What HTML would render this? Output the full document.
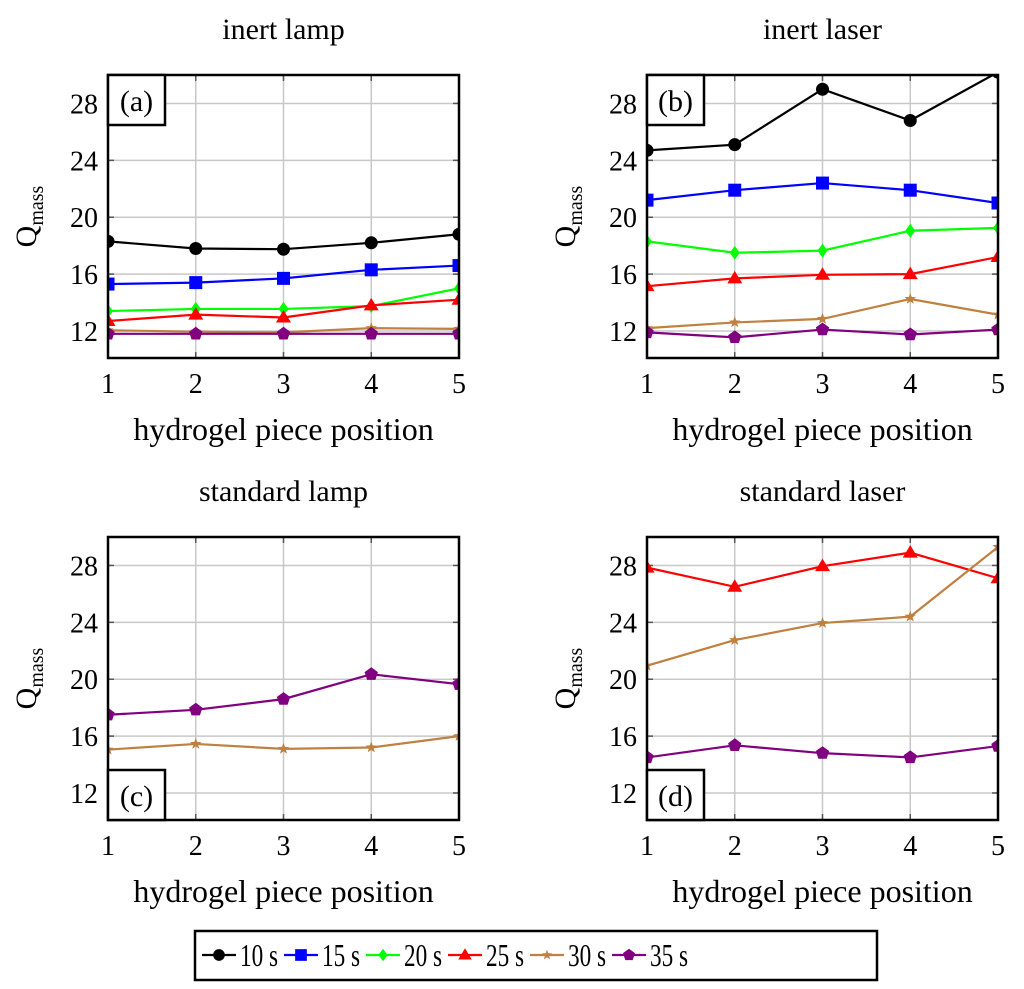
<!DOCTYPE html>
<html><head><meta charset="utf-8">
<style>
body{margin:0;background:#fff;}
svg{display:block;font-family:"Liberation Serif",serif;}
</style></head>
<body>
<svg id="chart" width="1024" height="989" viewBox="0 0 1024 989" xmlns="http://www.w3.org/2000/svg"></svg>
<script>
const xCats = [1,2,3,4,5];
const yTicks = [12,16,20,24,28];
const seriesNames = ["10 s","15 s","20 s","25 s","30 s","35 s"];
const seriesColors = ["#000000","#0000ff","#00ff00","#ff0000","#c08040","#800080"];
const seriesMarkers = ["circle","square","diamond","triangle","star","pentagon"];
const aS10 = [18.3,17.8,17.75,18.2,18.8];
const aS15 = [15.3,15.4,15.7,16.3,16.6];
const aS20 = [13.4,13.55,13.55,13.75,15.0];
const aS25 = [12.7,13.15,12.95,13.8,14.2];
const aS30 = [12.05,11.95,11.9,12.2,12.15];
const aS35 = [11.8,11.8,11.8,11.8,11.8];
const bS10 = [24.7,25.1,29.0,26.8,30.2];
const bS15 = [21.2,21.9,22.4,21.9,21.0];
const bS20 = [18.3,17.5,17.65,19.05,19.25];
const bS25 = [15.15,15.7,15.95,16.0,17.2];
const bS30 = [12.2,12.6,12.85,14.25,13.15];
const bS35 = [11.9,11.55,12.1,11.75,12.1];
const cS30 = [15.05,15.45,15.1,15.2,16.0];
const cS35 = [17.5,17.85,18.6,20.35,19.65];
const dS25 = [27.85,26.5,27.95,28.9,27.1];
const dS30 = [20.95,22.75,23.95,24.4,29.3];
const dS35 = [14.5,15.35,14.8,14.5,15.3];

const panels = [
 {id:"a",title:"inert lamp",x0:108,y0:75,label:"(a)",labelTop:true,data:[aS10,aS15,aS20,aS25,aS30,aS35]},
 {id:"b",title:"inert laser",x0:647,y0:75,label:"(b)",labelTop:true,data:[bS10,bS15,bS20,bS25,bS30,bS35]},
 {id:"c",title:"standard lamp",x0:108,y0:537,label:"(c)",labelTop:false,data:[null,null,null,null,cS30,cS35]},
 {id:"d",title:"standard laser",x0:647,y0:537,label:"(d)",labelTop:false,data:[null,null,null,dS25,dS30,dS35]}
];
const W=351,H=283,yMin=10.1,yMax=30;
const NS="http://www.w3.org/2000/svg";
const svg=document.getElementById("chart");
function el(tag,attrs,parent){const e=document.createElementNS(NS,tag);for(const k in attrs)e.setAttribute(k,attrs[k]);(parent||svg).appendChild(e);return e;}
function marker(g,type,cx,cy,color,s){
 let e;
 if(type==="circle") e=el("circle",{cx:cx,cy:cy,r:6.5*s,fill:color},g);
 else if(type==="square") e=el("rect",{x:cx-6.5*s,y:cy-6.5*s,width:13*s,height:13*s,fill:color},g);
 else if(type==="diamond") e=el("polygon",{points:`${cx},${cy-7*s} ${cx+5*s},${cy} ${cx},${cy+7*s} ${cx-5*s},${cy}`,fill:color},g);
 else if(type==="triangle") e=el("polygon",{points:`${cx},${cy-7.5*s} ${cx+7.5*s},${cy+5*s} ${cx-7.5*s},${cy+5*s}`,fill:color},g);
 else if(type==="star"){let p=[];for(let i=0;i<10;i++){const r=i%2?2.5*s:6*s,a=-Math.PI/2+i*Math.PI/5;p.push((cx+r*Math.cos(a)).toFixed(1)+","+(cy+r*Math.sin(a)).toFixed(1));}e=el("polygon",{points:p.join(" "),fill:color},g);}
 else {let p=[];for(let i=0;i<5;i++){const a=-Math.PI/2+i*2*Math.PI/5;p.push((cx+7*s*Math.cos(a)).toFixed(1)+","+(cy+7*s*Math.sin(a)).toFixed(1));}e=el("polygon",{points:p.join(" "),fill:color},g);}
 return e;
}
panels.forEach(p=>{
 const sx=v=>p.x0+(v-1)/4*W, sy=v=>p.y0+H-(v-yMin)/(yMax-yMin)*H;
 const g=el("g",{});
 
 
 const t=el("text",{x:p.x0+W/2,y:p.y0-36,"text-anchor":"middle","font-size":"30"},g);t.textContent=p.title;
 
 
 const clipId="clip"+p.id;
 const cp=el("clipPath",{id:clipId},g);el("rect",{x:p.x0,y:p.y0,width:W,height:H},cp);
 xCats.forEach(c=>{el("line",{x1:sx(c),x2:sx(c),y1:p.y0,y2:p.y0+H,stroke:"#c8c8c8","stroke-width":1.5},g);
   el("line",{x1:sx(c),x2:sx(c),y1:p.y0+H,y2:p.y0+H-6,stroke:"#555","stroke-width":1.5},g);
   el("line",{x1:sx(c),x2:sx(c),y1:p.y0,y2:p.y0+6,stroke:"#555","stroke-width":1.5},g);
   const tl=el("text",{x:sx(c),y:p.y0+H+35,"text-anchor":"middle","font-size":"28"},g);tl.textContent=c;
   
   });
 yTicks.forEach(v=>{el("line",{x1:p.x0,x2:p.x0+W,y1:sy(v),y2:sy(v),stroke:"#c8c8c8","stroke-width":1.5},g);
   el("line",{x1:p.x0,x2:p.x0+6,y1:sy(v),y2:sy(v),stroke:"#555","stroke-width":1.5},g);
   el("line",{x1:p.x0+W-6,x2:p.x0+W,y1:sy(v),y2:sy(v),stroke:"#555","stroke-width":1.5},g);
   const tl=el("text",{x:p.x0-10,y:sy(v)+10,"text-anchor":"end","font-size":"28"},g);tl.textContent=v;
   
   });
 const sg=el("g",{"clip-path":`url(#${clipId})`},g);
 p.data.forEach((d,i)=>{ if(!d) return;
   const lg=el("g",{},sg);
   
   
   el("polyline",{points:d.map((v,j)=>sx(xCats[j])+","+sy(v)).join(" "),fill:"none",stroke:seriesColors[i],"stroke-width":2.2},lg);
   d.forEach((v,j)=>marker(lg,seriesMarkers[i],sx(xCats[j]),sy(v),seriesColors[i],1));
 });
 el("rect",{x:p.x0,y:p.y0,width:W,height:H,fill:"none",stroke:"#000","stroke-width":2.5},g);
 const ly=p.labelTop?p.y0:p.y0+H-50;
 const lb=el("rect",{x:p.x0,y:ly,width:57,height:50,fill:"#fff",stroke:"#000","stroke-width":2.5},g);
 
 
 const lt=el("text",{x:p.x0+28.5,y:ly+36,"text-anchor":"middle","font-size":"30"},g);lt.textContent=p.label;
 const xl=el("text",{x:p.x0+W/2,y:p.y0+H+82,"text-anchor":"middle","font-size":"32"},g);xl.textContent="hydrogel piece position";
 
 
 const yx=p.x0-72,yy=p.y0+H/2;
 const yl=el("text",{x:yx,y:yy,"text-anchor":"middle","font-size":"30",transform:`rotate(-90 ${yx} ${yy})`},g);
 
 
 yl.innerHTML='Q<tspan font-size="20" dy="7">mass</tspan>';
});
const lgd=el("g",{});


el("rect",{x:195,y:931,width:682,height:49,fill:"#fff",stroke:"#000","stroke-width":2.5},lgd);
seriesNames.forEach((n,i)=>{
 const e=el("g",{},lgd);
 
 
 const x=202+i*82;
 el("line",{x1:x,x2:x+34,y1:955,y2:955,stroke:seriesColors[i],"stroke-width":2.2},e);
 marker(e,seriesMarkers[i],x+17,955,seriesColors[i],0.9);
 const t=el("text",{x:x+38,y:966,"font-size":"32",textLength:"38",lengthAdjust:"spacingAndGlyphs"},e);t.textContent=n;
});
</script>
</body></html>
